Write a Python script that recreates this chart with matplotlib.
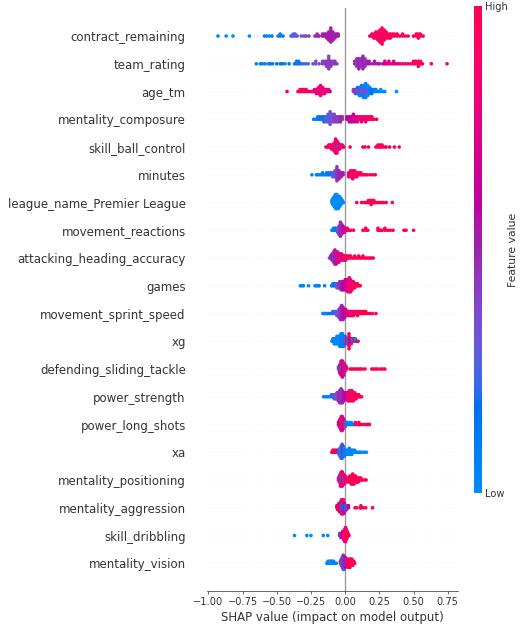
import numpy as np
import matplotlib
matplotlib.use("Agg")
import matplotlib.pyplot as plt
from matplotlib.colors import LinearSegmentedColormap
from matplotlib.cm import ScalarMappable


OUTPUT = "out.png"

AXIS_COLOR = "#333333"


# feature names, top row first
FEATURES = [
    "contract_remaining",
    "team_rating",
    "age_tm",
    "mentality_composure",
    "skill_ball_control",
    "minutes",
    "league_name_Premier League",
    "movement_reactions",
    "attacking_heading_accuracy",
    "games",
    "movement_sprint_speed",
    "xg",
    "defending_sliding_tackle",
    "power_strength",
    "power_long_shots",
    "xa",
    "mentality_positioning",
    "mentality_aggression",
    "skill_dribbling",
    "mentality_vision",
]


# every row: (shap value, feature value 0=low..1=high, number of samples)
contract_remaining = [
    (-0.93, 0.0, 1), (-0.87, 0.0, 1), (-0.82, 0.0, 1), (-0.70, 0.0, 1),
    (-0.59, 0.05, 1), (-0.575, 0.05, 1), (-0.555, 0.05, 1), (-0.535, 0.1, 1),
    (-0.49, 0.1, 1), (-0.475, 0.1, 2), (-0.455, 0.15, 1),
    (-0.395, 0.2, 1), (-0.38, 0.25, 2), (-0.365, 0.3, 2), (-0.35, 0.3, 1),
    (-0.32, 0.35, 1), (-0.30, 0.35, 1), (-0.285, 0.4, 1), (-0.265, 0.4, 1),
    (-0.22, 0.5, 1), (-0.205, 0.45, 2), (-0.19, 0.5, 1),
    (-0.165, 0.5, 2), (-0.15, 0.55, 2), (-0.135, 0.5, 3), (-0.12, 0.55, 5),
    (-0.105, 0.5, 8), (-0.09, 0.55, 5), (-0.075, 0.5, 3), (-0.06, 0.55, 2),
    (-0.05, 0.5, 2),
    (0.18, 0.9, 1), (0.195, 0.9, 2), (0.21, 0.95, 3), (0.225, 0.95, 4),
    (0.24, 0.9, 5), (0.255, 0.95, 7), (0.27, 0.95, 9), (0.285, 0.9, 6),
    (0.30, 0.95, 4), (0.315, 1.0, 3), (0.33, 0.95, 3), (0.345, 1.0, 2),
    (0.36, 0.95, 2), (0.38, 1.0, 2), (0.40, 1.0, 1), (0.42, 1.0, 2),
    (0.44, 1.0, 1), (0.46, 0.95, 1), (0.50, 1.0, 1), (0.52, 1.0, 2),
    (0.535, 1.0, 3), (0.55, 1.0, 2), (0.57, 1.0, 1),
]

team_rating = [
    (-0.65, 0.05, 1), (-0.62, 0.05, 1), (-0.605, 0.1, 1), (-0.585, 0.05, 1),
    (-0.56, 0.1, 1), (-0.545, 0.1, 1), (-0.53, 0.1, 1), (-0.50, 0.15, 1),
    (-0.475, 0.1, 1), (-0.46, 0.15, 1), (-0.44, 0.1, 1), (-0.41, 0.15, 1),
    (-0.37, 0.15, 1), (-0.355, 0.1, 2), (-0.34, 0.2, 2), (-0.325, 0.15, 1),
    (-0.31, 0.25, 1), (-0.29, 0.2, 1), (-0.27, 0.3, 1), (-0.235, 0.3, 1),
    (-0.215, 0.35, 2), (-0.19, 0.35, 1), (-0.165, 0.4, 2), (-0.15, 0.4, 2),
    (-0.135, 0.45, 3), (-0.12, 0.4, 6), (-0.105, 0.45, 3), (-0.09, 0.4, 2),
    (-0.075, 0.45, 2), (-0.06, 0.4, 1),
    (0.07, 0.5, 2), (0.085, 0.45, 4), (0.10, 0.5, 5), (0.115, 0.45, 4),
    (0.13, 0.5, 6), (0.145, 0.45, 4), (0.16, 0.5, 2), (0.175, 0.55, 2),
    (0.195, 0.5, 1), (0.215, 0.55, 2), (0.235, 0.5, 1), (0.25, 0.55, 1),
    (0.275, 0.65, 1), (0.29, 0.7, 2), (0.305, 0.7, 1), (0.32, 0.75, 2),
    (0.34, 0.75, 1), (0.355, 0.8, 2), (0.37, 0.75, 1), (0.385, 0.8, 1),
    (0.40, 0.85, 1), (0.42, 0.9, 1), (0.44, 0.85, 1), (0.46, 0.9, 1),
    (0.48, 0.9, 1), (0.50, 0.95, 2), (0.515, 0.9, 2), (0.535, 0.95, 3),
    (0.55, 0.95, 2), (0.565, 1.0, 1), (0.63, 1.0, 1), (0.745, 1.0, 1),
]

age_tm = [
    (-0.425, 1.0, 1), (-0.345, 1.0, 1), (-0.33, 0.95, 2), (-0.315, 1.0, 2),
    (-0.30, 0.9, 2), (-0.285, 0.95, 2), (-0.27, 0.9, 1), (-0.255, 0.95, 1),
    (-0.24, 0.85, 1), (-0.225, 0.9, 2), (-0.21, 0.8, 3), (-0.195, 0.85, 4),
    (-0.18, 0.8, 6), (-0.165, 0.85, 4), (-0.15, 0.8, 3), (-0.135, 0.75, 2),
    (-0.12, 0.8, 2), (-0.11, 0.7, 1),
    (0.06, 0.4, 2), (0.075, 0.45, 3), (0.09, 0.35, 2), (0.09, 0.15, 2),
    (0.105, 0.4, 3), (0.105, 0.1, 2), (0.12, 0.3, 4), (0.12, 0.1, 2),
    (0.135, 0.35, 4), (0.135, 0.05, 3), (0.15, 0.25, 5), (0.15, 0.05, 3),
    (0.165, 0.3, 3), (0.165, 0.0, 3), (0.18, 0.2, 2), (0.18, 0.05, 2),
    (0.195, 0.15, 3), (0.21, 0.1, 2), (0.225, 0.05, 2), (0.24, 0.05, 1),
    (0.26, 0.0, 2), (0.28, 0.05, 1), (0.29, 0.0, 1), (0.375, 0.0, 1),
]

mentality_composure = [
    (-0.23, 0.1, 1), (-0.215, 0.05, 1), (-0.20, 0.1, 2), (-0.185, 0.15, 2),
    (-0.17, 0.2, 2), (-0.155, 0.15, 3), (-0.14, 0.3, 3), (-0.125, 0.25, 4),
    (-0.11, 0.35, 6), (-0.095, 0.3, 4), (-0.08, 0.4, 4), (-0.065, 0.45, 3),
    (-0.05, 0.4, 3), (-0.035, 0.5, 3), (-0.02, 0.45, 2),
    (0.012, 0.6, 2), (0.03, 0.65, 3), (0.045, 0.6, 3), (0.06, 0.7, 4),
    (0.075, 0.65, 3), (0.09, 0.8, 3), (0.105, 0.85, 2), (0.12, 0.8, 3),
    (0.135, 0.9, 2), (0.15, 0.85, 3), (0.165, 0.9, 2), (0.18, 0.95, 2),
    (0.195, 0.9, 2), (0.21, 1.0, 1), (0.23, 1.0, 1),
]

skill_ball_control = [
    (-0.14, 0.9, 1), (-0.13, 0.95, 1), (-0.12, 0.9, 2), (-0.11, 0.95, 2),
    (-0.10, 0.9, 3), (-0.09, 0.85, 3), (-0.08, 0.9, 5), (-0.07, 0.8, 8),
    (-0.065, 0.05, 1), (-0.06, 0.9, 7), (-0.05, 0.1, 2), (-0.05, 0.9, 2),
    (-0.04, 0.85, 3), (-0.03, 0.9, 2), (-0.02, 0.8, 2), (-0.01, 0.9, 1),
    (0.036, 1.0, 1), (0.13, 1.0, 1), (0.145, 0.95, 1), (0.17, 1.0, 1),
    (0.225, 1.0, 1), (0.24, 0.95, 2), (0.255, 1.0, 2), (0.27, 1.0, 2),
    (0.285, 0.95, 1), (0.30, 1.0, 1), (0.325, 1.0, 1), (0.36, 1.0, 1),
    (0.395, 1.0, 1),
]

minutes = [
    (-0.243, 0.05, 1), (-0.21, 0.05, 1), (-0.195, 0.1, 1), (-0.18, 0.05, 1),
    (-0.165, 0.1, 2), (-0.15, 0.05, 1), (-0.135, 0.1, 2), (-0.12, 0.15, 2),
    (-0.105, 0.2, 2), (-0.09, 0.25, 3), (-0.075, 0.3, 4), (-0.06, 0.45, 8),
    (-0.045, 0.5, 5), (-0.03, 0.5, 3), (-0.015, 0.55, 2),
    (0.025, 0.85, 3), (0.04, 0.9, 4), (0.055, 0.85, 5), (0.07, 0.9, 4),
    (0.085, 0.95, 3), (0.10, 0.9, 2), (0.115, 0.95, 2), (0.13, 1.0, 1),
    (0.145, 0.95, 1), (0.16, 1.0, 1), (0.18, 1.0, 1), (0.20, 1.0, 1),
    (0.22, 1.0, 1),
]

league_name_premier_league = [
    (-0.097, 0.0, 2), (-0.09, 0.0, 4), (-0.08, 0.0, 6), (-0.07, 0.0, 8),
    (-0.06, 0.0, 8), (-0.05, 0.0, 7), (-0.04, 0.0, 6), (-0.03, 0.0, 4),
    (-0.02, 0.0, 2), (-0.012, 0.0, 1),
    (0.085, 1.0, 1), (0.12, 1.0, 1), (0.14, 1.0, 1), (0.155, 1.0, 1),
    (0.17, 1.0, 2), (0.18, 1.0, 2), (0.19, 1.0, 3), (0.20, 1.0, 2),
    (0.21, 1.0, 2), (0.22, 1.0, 1), (0.235, 1.0, 1), (0.25, 1.0, 1),
    (0.265, 1.0, 1), (0.28, 1.0, 1), (0.30, 1.0, 1), (0.345, 1.0, 1),
]

movement_reactions = [
    (-0.097, 0.05, 1), (-0.085, 0.1, 2), (-0.075, 0.05, 2), (-0.065, 0.15, 2),
    (-0.055, 0.3, 3), (-0.045, 0.4, 5), (-0.035, 0.5, 8), (-0.025, 0.45, 6),
    (-0.015, 0.6, 4), (-0.005, 0.7, 3), (0.005, 0.8, 2), (0.015, 0.85, 2),
    (0.025, 0.9, 1),
    (0.04, 0.95, 1), (0.061, 1.0, 1), (0.13, 1.0, 1), (0.15, 0.95, 2),
    (0.165, 1.0, 1), (0.24, 1.0, 2), (0.255, 1.0, 1), (0.27, 1.0, 1),
    (0.29, 1.0, 2), (0.31, 1.0, 1), (0.33, 1.0, 1), (0.35, 1.0, 1),
    (0.43, 1.0, 1), (0.445, 1.0, 1), (0.50, 1.0, 1),
]

attacking_heading_accuracy = [
    (-0.115, 0.3, 1), (-0.105, 0.5, 2), (-0.10, 0.05, 1), (-0.095, 0.6, 4),
    (-0.085, 0.4, 6), (-0.075, 0.7, 8), (-0.07, 0.1, 1), (-0.065, 0.5, 7),
    (-0.055, 0.8, 6), (-0.045, 0.6, 5), (-0.035, 0.9, 4), (-0.025, 0.7, 4),
    (-0.015, 0.9, 3), (-0.005, 0.8, 3), (0.005, 0.9, 3), (0.015, 1.0, 2),
    (0.025, 1.0, 2), (0.04, 0.95, 2), (0.055, 1.0, 1), (0.07, 1.0, 2),
    (0.085, 1.0, 1), (0.10, 1.0, 2), (0.115, 1.0, 1), (0.13, 1.0, 2),
    (0.145, 1.0, 1), (0.16, 1.0, 1), (0.175, 1.0, 1), (0.19, 1.0, 1),
    (0.205, 1.0, 1),
]

games = [
    (-0.328, 0.0, 1), (-0.318, 0.0, 1), (-0.305, 0.05, 1), (-0.268, 0.0, 1),
    (-0.22, 0.05, 1), (-0.21, 0.0, 1), (-0.20, 0.05, 1), (-0.19, 0.1, 1),
    (-0.15, 0.1, 1), (-0.10, 0.1, 1), (-0.09, 0.05, 2), (-0.08, 0.15, 2),
    (-0.07, 0.2, 2), (-0.06, 0.3, 3), (-0.05, 0.4, 3), (-0.04, 0.45, 4),
    (-0.03, 0.5, 5), (-0.02, 0.55, 5), (-0.01, 0.6, 5), (0.0, 0.65, 6),
    (0.01, 0.7, 6), (0.02, 0.75, 7), (0.03, 0.8, 8), (0.04, 0.85, 7),
    (0.05, 0.9, 5), (0.06, 0.9, 4), (0.07, 0.95, 3), (0.08, 0.95, 2),
    (0.09, 1.0, 2), (0.10, 1.0, 1), (0.11, 1.0, 1),
]

movement_sprint_speed = [
    (-0.163, 0.0, 1), (-0.155, 0.05, 1), (-0.145, 0.05, 1), (-0.135, 0.1, 1),
    (-0.12, 0.1, 1), (-0.105, 0.15, 1), (-0.09, 0.2, 2), (-0.075, 0.25, 2),
    (-0.06, 0.35, 3), (-0.045, 0.4, 5), (-0.035, 0.45, 7), (-0.025, 0.5, 8),
    (-0.015, 0.55, 7), (-0.005, 0.6, 5), (0.005, 0.7, 4), (0.015, 0.75, 3),
    (0.025, 0.8, 3), (0.035, 0.85, 3), (0.045, 0.9, 3), (0.06, 0.9, 3),
    (0.075, 0.95, 2), (0.09, 0.95, 3), (0.105, 1.0, 2), (0.12, 1.0, 2),
    (0.135, 1.0, 2), (0.15, 1.0, 2), (0.165, 1.0, 1), (0.18, 1.0, 1),
    (0.20, 1.0, 1), (0.225, 1.0, 1),
]

xg = [
    (-0.097, 0.05, 1), (-0.09, 0.0, 2), (-0.08, 0.05, 3), (-0.07, 0.0, 3),
    (-0.06, 0.05, 4), (-0.05, 0.0, 4), (-0.04, 0.05, 5), (-0.03, 0.1, 6),
    (-0.02, 0.05, 6), (-0.01, 0.1, 5), (0.0, 0.2, 4),
    (0.01, 0.9, 3), (0.02, 0.1, 3), (0.028, 1.0, 7), (0.035, 0.6, 3),
    (0.045, 0.9, 3), (0.055, 0.1, 2), (0.065, 1.0, 2), (0.075, 0.05, 2),
    (0.085, 0.9, 1), (0.095, 1.0, 1),
]

defending_sliding_tackle = [
    (-0.049, 0.1, 2), (-0.04, 0.8, 5), (-0.035, 0.05, 2), (-0.03, 0.9, 8),
    (-0.025, 0.0, 2), (-0.02, 0.6, 9), (-0.01, 0.85, 7), (0.0, 0.5, 4),
    (0.01, 0.9, 2),
    (0.036, 1.0, 1), (0.05, 1.0, 1), (0.065, 1.0, 1), (0.08, 1.0, 1),
    (0.095, 1.0, 1), (0.11, 1.0, 1), (0.125, 1.0, 1), (0.145, 1.0, 1),
    (0.195, 1.0, 1), (0.21, 1.0, 1), (0.225, 1.0, 1), (0.24, 1.0, 1),
    (0.26, 1.0, 1), (0.275, 1.0, 1), (0.29, 1.0, 1),
]

power_strength = [
    (-0.158, 0.05, 1), (-0.145, 0.05, 1), (-0.13, 0.1, 1), (-0.115, 0.05, 1),
    (-0.10, 0.1, 2), (-0.09, 0.2, 2), (-0.08, 0.3, 3), (-0.07, 0.35, 3),
    (-0.06, 0.4, 4), (-0.05, 0.45, 5), (-0.04, 0.5, 7), (-0.03, 0.45, 8),
    (-0.02, 0.5, 7), (-0.01, 0.55, 5), (0.0, 0.6, 4), (0.01, 0.7, 4),
    (0.02, 0.8, 5), (0.03, 0.85, 6), (0.04, 0.9, 6), (0.05, 0.95, 6),
    (0.06, 0.9, 5), (0.07, 0.95, 4), (0.08, 1.0, 3), (0.09, 0.95, 2),
    (0.10, 1.0, 2), (0.11, 1.0, 1), (0.12, 1.0, 1),
]

power_long_shots = [
    (-0.049, 0.8, 2), (-0.042, 0.6, 4), (-0.035, 0.9, 6), (-0.028, 0.5, 8),
    (-0.021, 0.85, 8), (-0.014, 0.7, 6), (-0.007, 0.9, 4), (0.0, 0.4, 3),
    (0.007, 0.3, 2),
    (0.015, 0.1, 2), (0.025, 0.05, 2), (0.035, 0.1, 1), (0.045, 0.0, 2),
    (0.055, 0.1, 1), (0.065, 0.05, 1), (0.075, 0.9, 2), (0.09, 1.0, 1),
    (0.10, 0.95, 2), (0.11, 1.0, 1), (0.125, 1.0, 1), (0.14, 1.0, 1),
    (0.155, 1.0, 1), (0.165, 1.0, 1), (0.178, 1.0, 1),
]

xa = [
    (-0.097, 1.0, 1), (-0.09, 0.95, 2), (-0.08, 1.0, 2), (-0.07, 0.9, 2),
    (-0.06, 0.95, 2), (-0.05, 0.6, 2), (-0.045, 0.1, 3), (-0.038, 0.05, 5),
    (-0.03, 0.3, 7), (-0.022, 0.1, 8), (-0.015, 0.5, 6), (-0.008, 0.05, 5),
    (0.0, 0.1, 3), (0.01, 0.05, 3), (0.02, 0.0, 3), (0.03, 0.05, 4),
    (0.04, 0.0, 3), (0.05, 0.05, 3), (0.06, 0.0, 2), (0.07, 0.05, 2),
    (0.08, 0.0, 1), (0.09, 0.05, 1), (0.10, 0.0, 1), (0.11, 0.05, 1),
    (0.125, 0.0, 1), (0.14, 0.0, 1), (0.155, 0.0, 1),
]

mentality_positioning = [
    (-0.049, 0.9, 2), (-0.042, 0.5, 4), (-0.035, 0.85, 7), (-0.028, 0.1, 4),
    (-0.028, 0.9, 4), (-0.021, 0.7, 8), (-0.014, 0.95, 6), (-0.007, 0.2, 3),
    (-0.007, 0.9, 2), (0.0, 0.85, 4), (0.008, 0.9, 3),
    (0.015, 1.0, 2), (0.025, 0.95, 3), (0.035, 1.0, 4), (0.045, 0.9, 5),
    (0.055, 1.0, 6), (0.065, 0.95, 5), (0.075, 1.0, 4), (0.085, 1.0, 3),
    (0.095, 1.0, 3), (0.105, 1.0, 2), (0.115, 1.0, 2), (0.125, 1.0, 1),
    (0.14, 1.0, 1), (0.153, 1.0, 1),
]

mentality_aggression = [
    (-0.061, 0.9, 2), (-0.054, 0.8, 3), (-0.047, 0.95, 4), (-0.04, 0.6, 5),
    (-0.033, 0.9, 6), (-0.026, 0.2, 4), (-0.026, 0.85, 4), (-0.019, 0.5, 7),
    (-0.012, 0.1, 4), (-0.012, 0.9, 4), (-0.005, 0.6, 5), (0.002, 0.05, 3),
    (0.009, 0.5, 3), (0.016, 0.3, 2), (0.024, 0.6, 2),
    (0.073, 1.0, 1), (0.085, 1.0, 1), (0.11, 1.0, 1), (0.115, 1.0, 2),
    (0.13, 1.0, 1), (0.15, 1.0, 1), (0.20, 1.0, 1),
]

skill_dribbling = [
    (-0.37, 0.0, 1), (-0.28, 0.0, 1), (-0.25, 0.0, 1), (-0.16, 0.0, 1),
    (-0.127, 0.05, 1),
    (-0.04, 0.5, 2), (-0.032, 0.45, 3), (-0.025, 0.5, 3), (-0.018, 0.6, 4),
    (-0.011, 0.8, 5), (-0.004, 0.9, 7), (0.003, 0.95, 8), (0.009, 1.0, 6),
    (0.015, 0.95, 4), (0.022, 1.0, 2), (0.028, 1.0, 1),
]

mentality_vision = [
    (-0.134, 0.0, 1), (-0.125, 0.05, 2), (-0.115, 0.0, 2), (-0.105, 0.05, 2),
    (-0.095, 0.0, 2), (-0.085, 0.05, 2), (-0.075, 0.1, 1), (-0.065, 0.05, 1),
    (-0.035, 0.4, 2), (-0.028, 0.5, 4), (-0.021, 0.3, 6), (-0.014, 0.5, 8),
    (-0.007, 0.2, 7), (0.0, 0.6, 6), (0.007, 0.45, 4),
    (0.014, 0.9, 4), (0.021, 1.0, 5), (0.028, 0.95, 5), (0.035, 1.0, 5),
    (0.042, 0.9, 4), (0.049, 1.0, 4), (0.056, 0.95, 3), (0.063, 1.0, 2),
    (0.07, 1.0, 1),
]

ROWS = [
    contract_remaining, team_rating, age_tm, mentality_composure,
    skill_ball_control, minutes, league_name_premier_league,
    movement_reactions, attacking_heading_accuracy, games,
    movement_sprint_speed, xg, defending_sliding_tackle, power_strength,
    power_long_shots, xa, mentality_positioning, mentality_aggression,
    skill_dribbling, mentality_vision,
]



def lch_to_rgb(l, c, h):
    # Lch -> Lab -> XYZ (D65) -> sRGB
    a = c * np.cos(h)
    b = c * np.sin(h)
    fy = (l + 16.0) / 116.0
    fx = fy + a / 500.0
    fz = fy - b / 200.0

    def finv(t):
        return t ** 3 if t > 0.2068966 else (t - 16.0 / 116.0) / 7.787

    xyz = np.array([0.95047 * finv(fx), finv(fy), 1.08883 * finv(fz)])
    m = np.array([
        [3.24048134, -1.53715152, -0.49853633],
        [-0.96925495, 1.87599, 0.04155593],
        [0.05564664, -0.20404134, 1.05731107],
    ])
    rgb = m @ xyz
    rgb = np.where(rgb > 0.0031308, 1.055 * np.abs(rgb) ** (1 / 2.4) - 0.055, 12.92 * rgb)
    return np.clip(rgb, 0, 1)


def red_blue_cmap():
    blue_lch = [54.0, 70.0, 4.6588]
    red_lch = [54.0, 90.0, 0.35470565 + 2 * np.pi]
    l_mid = 40.0
    nsteps = 100
    l_vals = list(np.linspace(blue_lch[0], l_mid, nsteps // 2)) + \
        list(np.linspace(l_mid, red_lch[0], nsteps // 2))
    c_vals = np.linspace(blue_lch[1], red_lch[1], nsteps)
    h_vals = np.linspace(blue_lch[2], red_lch[2], nsteps)
    colors = [lch_to_rgb(l, c, h) for l, c, h in zip(l_vals, c_vals, h_vals)]
    return LinearSegmentedColormap.from_list("red_blue", colors)


def swarm_offsets(shaps, row_height=0.4):
    # same stacking rule as shap's beeswarm
    nbins = 100
    quant = np.round(nbins * (shaps - shaps.min()) / (shaps.max() - shaps.min() + 1e-8))
    inds = np.argsort(quant, kind="stable")
    ys = np.zeros(len(shaps))
    layer = 0
    last_bin = -1
    for ind in inds:
        if quant[ind] != last_bin:
            layer = 0
        ys[ind] = np.ceil(layer / 2) * ((layer % 2) * 2 - 1)
        layer += 1
        last_bin = quant[ind]
    ys *= 0.9 * (row_height / np.max(ys + 1))
    return ys


def plot_summary():

    cmap = red_blue_cmap()

    fig = plt.figure(
        figsize=(8, 626 / 65),
        dpi=65
    )

    ax = fig.add_axes([207 / 520, 35 / 626, 251 / 520, 582.7 / 626])

    ax.axvline(x=0, color="#999999", zorder=-1)

    n = len(FEATURES)
    for i, (name, row) in enumerate(zip(FEATURES, ROWS)):
        pos = n - 1 - i
        ax.axhline(y=pos, color="#cccccc", lw=0.5, dashes=(1, 5), zorder=-1)

        shaps = np.repeat([r[0] for r in row], [r[2] for r in row])
        values = np.repeat([r[1] for r in row], [r[2] for r in row])
        ys = swarm_offsets(shaps)

        ax.scatter(
            shaps,
            pos + ys,
            c=values,
            cmap=cmap,
            vmin=0,
            vmax=1,
            s=16,
            linewidth=0,
            zorder=3
        )

    ax.set_xlim(-1.01, 0.825)
    ax.set_ylim(-1, n)

    ax.set_yticks(range(n))
    ax.set_yticklabels(FEATURES[::-1], fontsize=13)

    ax.set_xticks([-1.0, -0.75, -0.5, -0.25, 0.0, 0.25, 0.5, 0.75])
    ax.set_xticklabels(["\u22121.00", "\u22120.75", "\u22120.50", "\u22120.25",
                        "0.00", "0.25", "0.50", "0.75"])

    ax.xaxis.set_ticks_position("bottom")
    ax.yaxis.set_ticks_position("none")
    for side in ["right", "top", "left"]:
        ax.spines[side].set_visible(False)
    ax.spines["bottom"].set_color(AXIS_COLOR)

    ax.tick_params(color=AXIS_COLOR, labelcolor=AXIS_COLOR)
    ax.tick_params("y", length=20, width=0.5, which="major")
    ax.tick_params("x", labelsize=11)

    ax.set_xlabel(
        "SHAP value (impact on model output)",
        fontsize=13,
        color=AXIS_COLOR
    )

    cax = fig.add_axes([474 / 520, 133 / 626, 8 / 520, 487 / 626])
    sm = ScalarMappable(cmap=cmap)
    sm.set_array([0, 1])
    cb = fig.colorbar(sm, cax=cax, ticks=[0, 1])
    cb.set_ticklabels(["Low", "High"])
    cb.set_label("Feature value", size=12, labelpad=0, color=AXIS_COLOR)
    cb.ax.tick_params(labelsize=11, length=0, labelcolor=AXIS_COLOR)
    cb.outline.set_visible(False)

    fig.savefig(OUTPUT, dpi=65)



if __name__ == "__main__":

    plot_summary()
